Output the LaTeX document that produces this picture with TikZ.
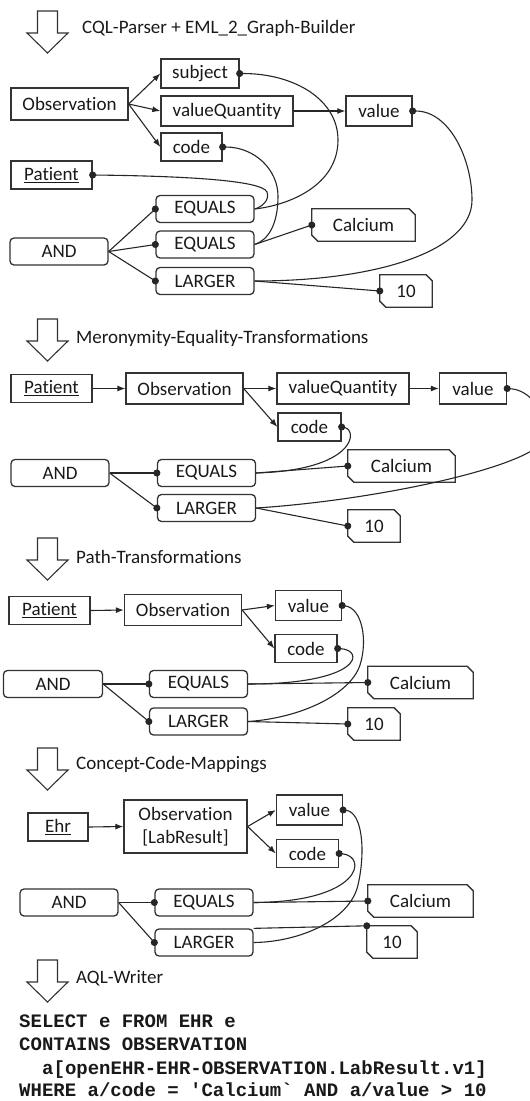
\documentclass[tikz,border=0pt]{standalone}
\usepackage{fontspec}
\setmainfont{Carlito}[Ligatures={NoCommon}]
\newfontfamily\codefont{Liberation Mono}
\usetikzlibrary{arrows.meta}
\tikzset{
  lbl/.style={font=\fontsize{19}{23}\selectfont, text=black!90},
  boxline/.style={draw=black!80, line width=1.3pt},
  box/.style={lbl, boxline, inner sep=0pt, minimum height=30pt},
  rbox/.style={box, rounded corners=4pt, minimum height=27pt, minimum width=98pt},
  cbox/.style={lbl, inner sep=0pt, minimum height=32pt},
  conn/.style={draw=black!85, line width=1.1pt},
  arr/.style={conn, -{Latex[length=8pt,width=6pt]}},
  dote/.style={conn, -{Circle[length=7pt]}, shorten >=-3.5pt},
  dots/.style={conn, {Circle[length=7pt]}-, shorten <=-3.5pt},
  title/.style={lbl, anchor=west, inner sep=0pt},
  code/.style={font=\codefont\bfseries\fontsize{19}{23}\selectfont, text=black!90, anchor=base west, inner sep=0pt},
  bigarrow/.pic={\draw[draw=black!80, line width=1.1pt] (-10,0) -- (10,0) -- (10,22) -- (20.5,22) -- (0,42) -- (-20.5,22) -- (-10,22) -- cycle;}
}
\newcommand\chamferbox[1]{\draw[boxline] (#1.north west) -- ([xshift=-6pt]#1.north east) -- ([yshift=-6pt]#1.north east) -- (#1.south east) -- ([xshift=6pt]#1.south west) -- ([yshift=6pt]#1.south west) -- cycle;}
\begin{document}
\begin{tikzpicture}[x=1pt,y=-1pt]
\useasboundingbox (0,0) rectangle (530,1101);

% ---------------- Section 1
\pic at (47.5,11) {bigarrow};
\node[title] (t1) at (82,28) {CQL-Parser + EML\_2\_Graph-Builder};
\node[box, minimum width=117pt, minimum height=32pt] (obs1) at (69.5,104) {Observation};
\node[box, minimum width=78pt, minimum height=29pt] (subj1) at (200,73.5) {subject};
\node[box, minimum width=132pt] (vq1) at (227,111) {valueQuantity};
\node[box, minimum width=66pt] (val1) at (379,111) {value};
\node[box, minimum width=61pt, minimum height=28pt] (code1) at (191.5,147) {code};
\node[box, minimum width=81pt, minimum height=28pt] (pat1) at (51.5,175) {\underline{Patient}};
\node[rbox] (eq1a) at (205,209) {EQUALS};
\node[rbox] (eq1b) at (205,244.5) {EQUALS};
\node[rbox] (and1) at (59,251.5) {AND};
\node[rbox] (lg1) at (205,281) {LARGER};
\node[cbox, minimum width=103pt] (cal1) at (363.5,225) {Calcium};
\chamferbox{cal1}
\node[cbox, minimum width=52pt] (ten1) at (406,291) {10};
\chamferbox{ten1}
\draw[arr] (obs1.east) -- (subj1.west);
\draw[arr] (obs1.east) -- (vq1.west);
\draw[arr] (obs1.east) -- (code1.west);
\draw[arr] (vq1.east) -- (val1.west);
\draw[dots] (subj1.east) .. controls (295,73.5) and (338,100) .. (338,140) .. controls (338,185) and (290,205) .. (eq1a.east);
\draw[dots] (code1.east) .. controls (255,147) and (278,170) .. (278,196) .. controls (278,225) and (268,240) .. (eq1b.east);
\draw[dots] (pat1.east) .. controls (180,176) and (262,180) .. (267,192) .. controls (270,200) and (262,207) .. (eq1a.east);
\draw[dots] (val1.east) .. controls (450,111) and (472,160) .. (472,200) .. controls (472,250) and (380,281) .. (lg1.east);
\draw[dote] (eq1b.east) -- (cal1.west);
\draw[dote] (lg1.east) -- (ten1.west);
\draw[dote] (and1.east) -- (eq1a.west);
\draw[dote] (and1.east) -- (eq1b.west);
\draw[dote] (and1.east) -- (lg1.west);

% ---------------- Section 2
\pic at (47.5,319) {bigarrow};
\node[title] (t2) at (76,338) {Meronymity-Equality-Transformations};
\node[box, minimum width=81pt, minimum height=28pt] (pat2) at (51.5,388.5) {\underline{Patient}};
\node[box, minimum width=117pt, minimum height=31pt] (obs2) at (184.5,388.5) {Observation};
\node[box, minimum width=132pt, minimum height=31pt] (vq2) at (343,388.5) {valueQuantity};
\node[box, minimum width=67pt, minimum height=31pt] (val2) at (473,388.5) {value};
\node[box, minimum width=63pt, minimum height=28pt] (code2) at (309.5,427) {code};
\node[rbox] (and2) at (60,473) {AND};
\node[rbox] (eq2) at (206.5,473) {EQUALS};
\node[rbox] (lg2) at (206.5,508) {LARGER};
\node[cbox, minimum width=107pt] (cal2) at (401.5,466) {Calcium};
\chamferbox{cal2}
\node[cbox, minimum width=52pt] (ten2) at (374,526) {10};
\chamferbox{ten2}
\draw[arr] (pat2.east) -- (obs2.west);
\draw[arr] (obs2.east) -- (vq2.west);
\draw[arr] (obs2.east) -- (code2.west);
\draw[arr] (vq2.east) -- (val2.west);
\draw[dots] (code2.east) .. controls (358,430) and (356,470) .. (eq2.east);
\draw[dots] (val2.east) .. controls (530,390) and (545,410) .. (545,437) .. controls (540,465) and (380,500) .. (lg2.east);
\draw[dote] (eq2.east) -- (cal2.west);
\draw[dote] (lg2.east) -- (ten2.west);
\draw[dote] (and2.east) -- (eq2.west);
\draw[dote] (and2.east) -- (lg2.west);

% ---------------- Section 3
\pic at (47.5,538) {bigarrow};
\node[title] (t3) at (76,557) {Path-Transformations};
\node[box, minimum width=81pt, minimum height=28pt] (pat3) at (49.5,610.5) {\underline{Patient}};
\node[box, minimum width=117pt, minimum height=31pt] (obs3) at (183,610) {Observation};
\node[box, minimum width=66pt] (val3) at (308.5,605.5) {value};
\node[box, minimum width=62pt, minimum height=28pt] (code3) at (306,648.5) {code};
\node[rbox, minimum width=99pt] (and3) at (53,684) {AND};
\node[rbox] (eq3) at (198.5,684) {EQUALS};
\node[rbox] (lg3) at (198.5,721.5) {LARGER};
\node[cbox, minimum width=105pt] (cal3) at (420.5,682.5) {Calcium};
\chamferbox{cal3}
\node[cbox, minimum width=52pt] (ten3) at (374,724) {10};
\chamferbox{ten3}
\draw[arr] (pat3.east) -- (obs3.west);
\draw[arr] (obs3.east) -- (val3.west);
\draw[arr] (obs3.east) -- (code3.west);
\draw[dots] (code3.east) .. controls (365,650) and (362,684) .. (eq3.east);
\draw[dots] (val3.east) .. controls (362,608) and (368,640) .. (360,665) .. controls (350,695) and (300,718) .. (lg3.east);
\draw[dote] (eq3.east) -- (cal3.west);
\draw[dote] (lg3.east) -- (ten3.west);
\draw[dote] (and3.east) -- (eq3.west);
\draw[dote] (and3.east) -- (lg3.west);

% ---------------- Section 4
\pic at (47.5,748) {bigarrow};
\node[title] (t4) at (76,765) {Concept-Code-Mappings};
\node[box, minimum width=60pt, minimum height=28pt] (ehr4) at (58,827) {\underline{Ehr}};
\node[box, minimum width=123pt, minimum height=53pt, align=center] (obs4) at (185.5,826.5) {Observation\\{}[LabResult]};
\node[box, minimum width=66pt] (val4) at (309.5,810) {value};
\node[box, minimum width=62pt, minimum height=28pt] (code4) at (307.5,853.5) {code};
\node[rbox] (and4) at (69,902.5) {AND};
\node[rbox] (eq4) at (204,902.5) {EQUALS};
\node[rbox] (lg4) at (204,942.5) {LARGER};
\node[cbox, minimum width=105pt] (cal4) at (420.5,901) {Calcium};
\chamferbox{cal4}
\node[cbox, minimum width=50pt] (ten4) at (392,942) {10};
\chamferbox{ten4}
\draw[arr] (ehr4.east) -- (obs4.west);
\draw[arr] (obs4.east) -- (val4.west);
\draw[arr] (obs4.east) -- (code4.west);
\draw[dots] (code4.east) .. controls (368,856) and (362,902) .. (eq4.east);
\draw[dots] (val4.east) .. controls (362,812) and (366,850) .. (358,885) .. controls (350,920) and (300,942) .. (lg4.east);
\draw[dote] (eq4.east) -- (cal4.west);
\draw[dote] (lg4.north east) -- (ten4.north west);
\draw[dote] (and4.east) -- (eq4.west);
\draw[dote] (and4.east) -- (lg4.west);

% ---------------- Section 5
\pic at (47.5,960) {bigarrow};
\node[title] (t5) at (76,978) {AQL-Writer};
\node[code] (q1) at (19,1027.5) {SELECT e FROM EHR e};
\node[code] (q2) at (19,1050.5) {CONTAINS OBSERVATION};
\node[code] (q3) at (42,1074) {a[openEHR-EHR-OBSERVATION.LabResult.v1]};
\node[code] (q4) at (19,1096) {WHERE a/code = \symbol{39}Calcium\symbol{96} AND a/value > 10};
\end{tikzpicture}
\end{document}
